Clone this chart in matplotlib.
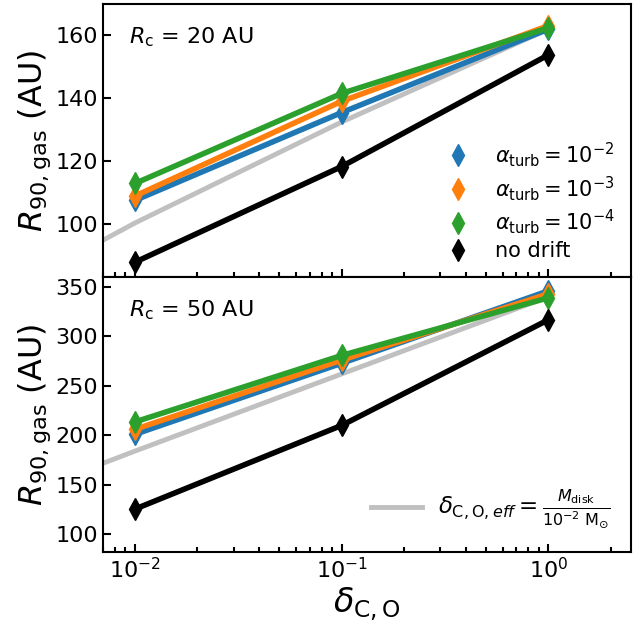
import matplotlib
matplotlib.use("Agg")
import matplotlib.pyplot as plt
from matplotlib.lines import Line2D

# ---- data ----
delta = [0.01, 0.1, 1.0]
labels = [r'$\alpha_{\rm turb} = 10^{-2}$', r'$\alpha_{\rm turb} = 10^{-3}$',
          r'$\alpha_{\rm turb} = 10^{-4}$', 'no drift']
colors = ['#1f77b4', '#ff7f0e', '#2ca02c', 'black']

# Rc = 20 AU
r20_a2 = [107.4, 135.4, 162.0]
r20_a3 = [108.8, 139.0, 163.1]
r20_a4 = [112.8, 141.5, 162.4]
r20_nodrift = [87.7, 118.2, 153.8]

# Rc = 50 AU
r50_a2 = [201.0, 272.8, 346.0]
r50_a3 = [206.0, 276.0, 343.0]
r50_a4 = [213.5, 280.7, 339.0]
r50_nodrift = [125.4, 210.0, 316.8]

# effective delta curve (gray)
eff_x = [0.005, 0.01, 0.1, 1.0]
eff_20 = [89.5, 100.2, 132.4, 162.0]
eff_50 = [160.0, 184.0, 262.0, 340.0]

panels = [
    ('20', [r20_a2, r20_a3, r20_a4, r20_nodrift], eff_20, (83, 170), [100, 120, 140, 160]),
    ('50', [r50_a2, r50_a3, r50_a4, r50_nodrift], eff_50, (82, 360), [100, 150, 200, 250, 300, 350]),
]

fig = plt.figure(figsize=(6.43, 6.22), dpi=100)
ax_top = fig.add_axes([0.160, 0.5547, 0.821, 0.4389])
ax_bot = fig.add_axes([0.160, 0.1125, 0.821, 0.4422], sharex=ax_top)

for ax, (rc, series, eff, ylim, yt) in zip([ax_top, ax_bot], panels):
    ax.plot(eff_x, eff, color='#c0c0c0', lw=3.5, zorder=1,
            label=r'$\delta_{\rm C,O,\mathit{eff}} = \frac{M_{\rm disk}}{10^{-2}\ \rm M_{\odot}}$')
    for vals, c in zip(series, colors):
        ax.plot(delta, vals, color=c, lw=4, marker='d', ms=11, zorder=2)
    ax.set_xscale('log')
    ax.set_xlim(0.007, 2.5)
    ax.set_ylim(*ylim)
    ax.set_yticks(yt)
    ax.set_ylabel(r'$R_{\rm 90,gas}$ (AU)', fontsize=23, labelpad=2)
    ax.text(0.05, 0.878, r'$R_{\rm c}$ = %s AU' % rc, transform=ax.transAxes,
            fontsize=16, va='center')
    ax.tick_params(which='both', direction='in', labelsize=16, width=1.5)
    ax.tick_params(which='major', length=6)
    ax.tick_params(which='minor', length=3.5)
    ax.yaxis.set_minor_locator(matplotlib.ticker.NullLocator())
    for s in ax.spines.values():
        s.set_linewidth(1.5)

ax_top.tick_params(labelbottom=False)
ax_bot.set_xlabel(r'$\delta_{\rm C,O}$', fontsize=24, labelpad=2)

handles = [Line2D([], [], ls='none', marker='d', ms=11, color=c) for c in colors]
ax_top.legend(handles, labels, loc='lower right', frameon=False, fontsize=15,
              handletextpad=0.8, labelspacing=0.24, borderaxespad=0.35)
ax_bot.legend(handles=[ax_bot.lines[0]], loc='lower right', frameon=False,
              fontsize=16.5, handlelength=2.2, handletextpad=0.7)

fig.savefig('out.png', dpi=100)
